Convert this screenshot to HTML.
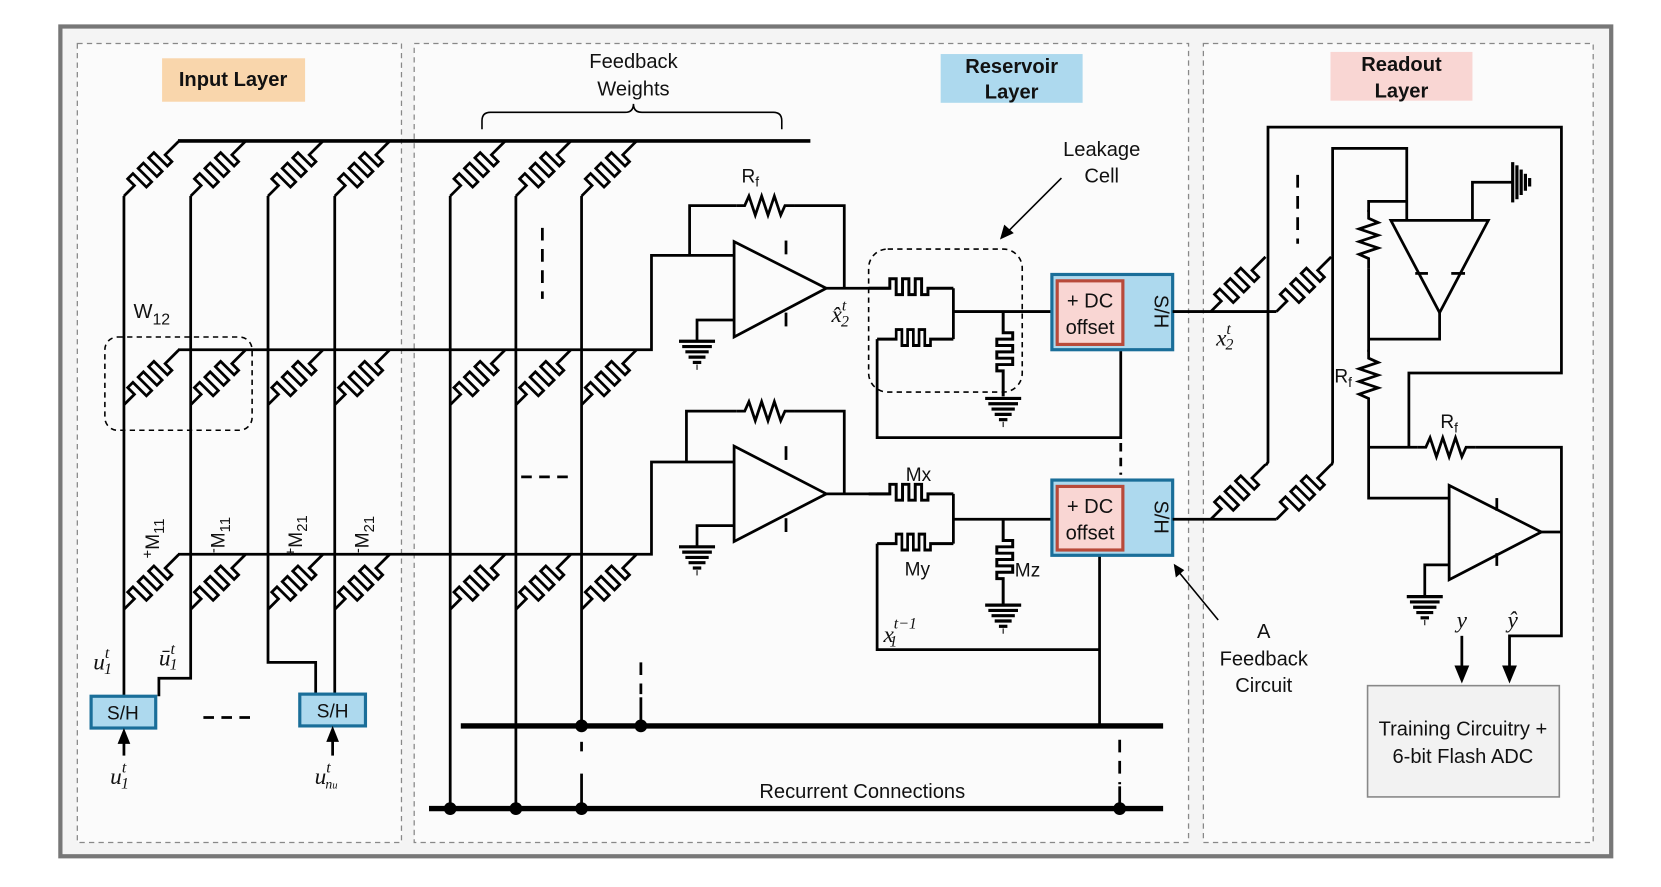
<!DOCTYPE html>
<html><head><meta charset="utf-8"><style>
html,body{margin:0;padding:0;background:#fff;}
svg{display:block;}
text{font-family:"Liberation Sans",sans-serif;fill:#111;}
.m{font-family:"Liberation Serif",serif;font-style:italic;}
</style></head><body>
<svg width="1661" height="887" viewBox="0 0 1568 837" preserveAspectRatio="none" xmlns="http://www.w3.org/2000/svg">
<defs>
<path id="mem" d="M0 0 L14 0 L14 -9 L21 -9 L21 9 L28 9 L28 -9 L35 -9 L35 9 L42 9 L42 -9 L49 -9 L49 9 L55 9 L55 0 L73 0" fill="none" stroke="#000" stroke-width="2.6"/>
<path id="memh" d="M0 0 L20 0 L20 -9 L26 -9 L26 6 L32 6 L32 -9 L38 -9 L38 6 L44 6 L44 -9 L50 -9 L50 6 L56 6 L56 0 L80 0" fill="none" stroke="#000" stroke-width="2.8"/>
<g id="gnd" stroke="#000" stroke-width="3">
<line x1="-17" y1="0" x2="17" y2="0"/><line x1="-14" y1="5" x2="14" y2="5"/><line x1="-11" y1="10" x2="11" y2="10"/><line x1="-8" y1="15" x2="8" y2="15"/><line x1="-4" y1="20" x2="4" y2="20"/><line x1="0" y1="22" x2="0" y2="27" stroke-width="1"/>
</g>
<path id="res" d="M0 0 L8 0 L12 -9 L18 9 L24 -9 L30 9 L36 -9 L42 9 L46 0 L55 0" fill="none" stroke="#000" stroke-width="2.6"/>
</defs>
<rect x="0" y="0" width="1568" height="837" fill="#fff"/>
<rect x="57" y="25" width="1464" height="783" fill="#f4f4f4" stroke="#777" stroke-width="4"/>
<g fill="#fbfbfb" stroke="#888" stroke-width="1.2" stroke-dasharray="5,4">
<rect x="73" y="41" width="306" height="754"/>
<rect x="391" y="41" width="731" height="754"/>
<rect x="1136" y="41" width="368" height="754"/>
</g>
<rect x="153" y="55" width="135" height="41" fill="#f9d6ac"/>
<text x="220" y="81" font-size="19" font-weight="bold" text-anchor="middle">Input Layer</text>
<rect x="888" y="51" width="134" height="46" fill="#add9ee"/>
<text x="955" y="69" font-size="19" font-weight="bold" text-anchor="middle">Reservoir</text>
<text x="955" y="93" font-size="19" font-weight="bold" text-anchor="middle">Layer</text>
<rect x="1256" y="49" width="134" height="46" fill="#f9d6d3"/>
<text x="1323" y="67" font-size="19" font-weight="bold" text-anchor="middle">Readout</text>
<text x="1323" y="92" font-size="19" font-weight="bold" text-anchor="middle">Layer</text>
<text x="598" y="64" font-size="19" text-anchor="middle">Feedback</text>
<text x="598" y="90" font-size="19" text-anchor="middle">Weights</text>
<path d="M455 122 V114 Q455 106 463 106 H590 Q598 106 598 98 Q598 106 606 106 H730 Q738 106 738 114 V122" fill="none" stroke="#000" stroke-width="1.5"/>

<g fill="none" stroke="#000" stroke-width="2.6">
<line x1="168" y1="133" x2="765" y2="133" stroke-width="3.5"/>
<polyline points="168,330 615,330 615,241 693,241"/>
<polyline points="168,523 615,523 615,436 693,436"/>
<polyline points="117,185 117,657"/>
<polyline points="180,185 180,640 150,640 150,657"/>
<polyline points="253,185 253,625 298,625 298,655"/>
<polyline points="316,185 316,655"/>
<line x1="425" y1="185" x2="425" y2="763"/>
<line x1="487" y1="185" x2="487" y2="763"/>
<line x1="549" y1="185" x2="549" y2="685"/>
<line x1="549" y1="700" x2="549" y2="712" stroke-dasharray="9,6"/>
<line x1="549" y1="730" x2="549" y2="763"/>
<line x1="512" y1="215" x2="512" y2="282" stroke-dasharray="12,8"/>
<line x1="492" y1="450" x2="540" y2="450" stroke-dasharray="10,7"/>
<line x1="192" y1="677" x2="240" y2="677" stroke-dasharray="10,7"/>
<line x1="605" y1="625" x2="605" y2="655" stroke-dasharray="12,8"/>
<line x1="605" y1="658" x2="605" y2="685"/>
<line x1="1057" y1="698" x2="1057" y2="740" stroke-dasharray="12,8"/>
<line x1="1057" y1="742" x2="1057" y2="763"/>
<line x1="1058" y1="418" x2="1058" y2="448" stroke-dasharray="8,6"/>
<line x1="1225" y1="165" x2="1225" y2="230" stroke-dasharray="12,8"/>
<line x1="435" y1="685" x2="1098" y2="685" stroke-width="5"/>
<line x1="405" y1="763" x2="1098" y2="763" stroke-width="5"/>
</g>
<g fill="#000">
<circle cx="549" cy="685" r="6"/><circle cx="605" cy="685" r="6"/>
<circle cx="425" cy="763" r="6"/><circle cx="487" cy="763" r="6"/><circle cx="549" cy="763" r="6"/><circle cx="1057" cy="763" r="6"/>
</g>
<text x="814" y="753" font-size="19" text-anchor="middle">Recurrent Connections</text>

<g>
<use href="#mem" transform="translate(117,185) rotate(-45)"/>
<use href="#mem" transform="translate(180,185) rotate(-45)"/>
<use href="#mem" transform="translate(253,185) rotate(-45)"/>
<use href="#mem" transform="translate(316,185) rotate(-45)"/>
<use href="#mem" transform="translate(425,185) rotate(-45)"/>
<use href="#mem" transform="translate(487,185) rotate(-45)"/>
<use href="#mem" transform="translate(549,185) rotate(-45)"/>
<use href="#mem" transform="translate(117,382) rotate(-45)"/>
<use href="#mem" transform="translate(180,382) rotate(-45)"/>
<use href="#mem" transform="translate(253,382) rotate(-45)"/>
<use href="#mem" transform="translate(316,382) rotate(-45)"/>
<use href="#mem" transform="translate(425,382) rotate(-45)"/>
<use href="#mem" transform="translate(487,382) rotate(-45)"/>
<use href="#mem" transform="translate(549,382) rotate(-45)"/>
<use href="#mem" transform="translate(117,575) rotate(-45)"/>
<use href="#mem" transform="translate(180,575) rotate(-45)"/>
<use href="#mem" transform="translate(253,575) rotate(-45)"/>
<use href="#mem" transform="translate(316,575) rotate(-45)"/>
<use href="#mem" transform="translate(425,575) rotate(-45)"/>
<use href="#mem" transform="translate(487,575) rotate(-45)"/>
<use href="#mem" transform="translate(549,575) rotate(-45)"/>
</g>
<rect x="99" y="318" width="139" height="88" rx="12" fill="none" stroke="#000" stroke-width="1.5" stroke-dasharray="5,4"/>
<text x="126" y="300" font-size="19">W<tspan font-size="15" dy="6">12</tspan></text>
<g font-size="18">
<text transform="translate(150,527) rotate(-90)"><tspan font-size="14" dy="-6">+</tspan><tspan dy="6">M</tspan><tspan font-size="14" dy="5">11</tspan></text>
<text transform="translate(212,522) rotate(-90)"><tspan font-size="14" dy="-6">-</tspan><tspan dy="6">M</tspan><tspan font-size="14" dy="5">11</tspan></text>
<text transform="translate(285,525) rotate(-90)"><tspan font-size="14" dy="-6">+</tspan><tspan dy="6">M</tspan><tspan font-size="14" dy="5">21</tspan></text>
<text transform="translate(348,522) rotate(-90)"><tspan font-size="14" dy="-6">-</tspan><tspan dy="6">M</tspan><tspan font-size="14" dy="5">21</tspan></text>
</g>
<rect x="86" y="657" width="61" height="30" fill="#add9ee" stroke="#1a6e99" stroke-width="3"/>
<text x="116" y="679" font-size="18" text-anchor="middle">S/H</text>
<rect x="283" y="655" width="62" height="30" fill="#add9ee" stroke="#1a6e99" stroke-width="3"/>
<text x="314" y="677" font-size="18" text-anchor="middle">S/H</text>
<g stroke="#000" stroke-width="2.6"><line x1="117" y1="713" x2="117" y2="700"/><line x1="314" y1="713" x2="314" y2="698"/></g>
<polygon points="111,702 123,702 117,687" fill="#000"/>
<polygon points="308,700 320,700 314,685" fill="#000"/>
<g font-size="22">
<text x="88" y="632" class="m">u<tspan font-size="15" dy="-11">t</tspan><tspan font-size="15" dx="-5" dy="15">1</tspan></text>
<text x="150" y="628" class="m">ū<tspan font-size="15" dy="-11">t</tspan><tspan font-size="15" dx="-5" dy="15">1</tspan></text>
<text x="104" y="740" class="m">u<tspan font-size="15" dy="-11">t</tspan><tspan font-size="15" dx="-5" dy="15">1</tspan></text>
<text x="297" y="740" class="m">u<tspan font-size="15" dy="-11">t</tspan><tspan font-size="13" dx="-5" dy="15">n<tspan font-size="10">u</tspan></tspan></text>
</g>

<g fill="none" stroke="#000" stroke-width="2.6">
<polygon points="693,228 693,318 780,272" fill="#fbfbfb"/>
<polyline points="651,241 651,194 695,194"/><use href="#res" transform="translate(695,194)" /><polyline points="750,194 797,194 797,272"/>
<line x1="780" y1="272" x2="840" y2="272"/>
<polyline points="693,302 658,302 658,322"/>
<line x1="742" y1="227" x2="742" y2="240"/><line x1="742" y1="295" x2="742" y2="308"/>
<polygon points="693,421 693,511 780,466" fill="#fbfbfb"/>
<polyline points="648,436 648,388 695,388"/><use href="#res" transform="translate(695,388)"/><polyline points="750,388 797,388 797,466"/>
<line x1="780" y1="466" x2="840" y2="466"/>
<polyline points="693,496 658,496 658,516"/>
<line x1="742" y1="421" x2="742" y2="434"/><line x1="742" y1="489" x2="742" y2="502"/>
</g>
<use href="#gnd" transform="translate(658,322)"/>
<use href="#gnd" transform="translate(658,516)"/>
<text x="700" y="172" font-size="18">R<tspan font-size="13" dy="4">f</tspan></text>
<text x="785" y="304" font-size="22" class="m">x̂<tspan font-size="15" dy="-11">t</tspan><tspan font-size="15" dx="-5" dy="15">2</tspan></text>

<g fill="none" stroke="#000" stroke-width="2.6">
<use href="#memh" transform="translate(820,272)"/>
<use href="#memh" transform="translate(828,320) scale(0.9,1)"/>
<polyline points="900,272 900,320"/>
<line x1="900" y1="294" x2="993" y2="294"/>
<use href="#memh" transform="translate(947,294) rotate(90)"/>
<polyline points="828,320 828,413 1058,413 1058,330"/>
<use href="#memh" transform="translate(820,466)"/>
<use href="#memh" transform="translate(828,513) scale(0.9,1)"/>
<polyline points="900,466 900,513"/>
<line x1="900" y1="490" x2="993" y2="490"/>
<use href="#memh" transform="translate(947,490) rotate(90)"/>
<polyline points="828,513 828,613 1038,613"/>
<line x1="1038" y1="524" x2="1038" y2="685"/>
</g>
<use href="#gnd" transform="translate(947,376)"/>
<use href="#gnd" transform="translate(947,571)"/>
<rect x="820" y="235" width="145" height="135" rx="18" fill="none" stroke="#000" stroke-width="1.5" stroke-dasharray="5,4"/>
<text x="1040" y="147" font-size="19" text-anchor="middle">Leakage</text>
<text x="1040" y="172" font-size="19" text-anchor="middle">Cell</text>
<line x1="1002" y1="168" x2="950" y2="220" stroke="#000" stroke-width="1.5"/>
<polygon points="944,226 948,212 957,220" fill="#000"/>
<text x="867" y="454" font-size="18" text-anchor="middle">Mx</text>
<text x="866" y="543" font-size="18" text-anchor="middle">My</text>
<text x="958" y="544" font-size="18">Mz</text>
<text x="834" y="606" font-size="22" class="m">x<tspan font-size="15" dy="-13">t−1</tspan><tspan font-size="15" dx="-26" dy="17">1</tspan></text>

<g>
<rect x="993" y="259" width="114" height="71" fill="#add9ee" stroke="#1a6e99" stroke-width="3"/>
<rect x="998" y="265" width="62" height="60" fill="#f9d6d3" stroke="#b84a3a" stroke-width="3"/>
<text x="1029" y="290" font-size="19" text-anchor="middle">+ DC</text>
<text x="1029" y="315" font-size="19" text-anchor="middle">offset</text>
<text transform="translate(1090,294) rotate(90)" font-size="19" text-anchor="middle">S/H</text>
<rect x="993" y="453" width="114" height="71" fill="#add9ee" stroke="#1a6e99" stroke-width="3"/>
<rect x="998" y="459" width="62" height="60" fill="#f9d6d3" stroke="#b84a3a" stroke-width="3"/>
<text x="1029" y="484" font-size="19" text-anchor="middle">+ DC</text>
<text x="1029" y="509" font-size="19" text-anchor="middle">offset</text>
<text transform="translate(1090,488) rotate(90)" font-size="19" text-anchor="middle">S/H</text>
</g>
<text x="1193" y="602" font-size="19" text-anchor="middle">A</text>
<text x="1193" y="628" font-size="19" text-anchor="middle">Feedback</text>
<text x="1193" y="653" font-size="19" text-anchor="middle">Circuit</text>
<line x1="1150" y1="585" x2="1113" y2="540" stroke="#000" stroke-width="1.5"/>
<polygon points="1108,532 1118,538 1110,545" fill="#000"/>

<g fill="none" stroke="#000" stroke-width="2.6">
<line x1="1107" y1="294" x2="1205" y2="294"/>
<use href="#mem" transform="translate(1143,294) rotate(-45)"/>
<use href="#mem" transform="translate(1205,294) rotate(-45)"/>
<line x1="1107" y1="490" x2="1205" y2="490"/>
<use href="#mem" transform="translate(1143,490) rotate(-45)"/>
<use href="#mem" transform="translate(1205,490) rotate(-45)"/>
<polyline points="1195,439 1197,436 1197,120 1474,120 1474,352 1330,352 1330,422"/>
<polyline points="1257,439 1258,436 1258,140 1328,140 1328,208"/>
<polygon points="1313,208 1405,208 1359,295" fill="#fbfbfb"/>
<polyline points="1390,208 1390,172 1428,172"/>
<polyline points="1359,295 1359,320 1292,320"/>
<polyline points="1328,190 1292,190 1292,200"/>
<use href="#res" transform="translate(1292,198) rotate(90)"/>
<line x1="1292" y1="253" x2="1292" y2="332"/>
<use href="#res" transform="translate(1292,330) rotate(90)"/>
<polyline points="1292,385 1292,470 1368,470"/>
<line x1="1292" y1="422" x2="1338" y2="422"/>
<use href="#res" transform="translate(1338,422)"/>
<polyline points="1393,422 1474,422 1474,600 1425,600 1425,630"/>
<line x1="1336" y1="258" x2="1348" y2="258"/><line x1="1370" y1="258" x2="1383" y2="258"/>
<polygon points="1368,458 1368,547 1455,502" fill="#fbfbfb"/>
<line x1="1455" y1="502" x2="1474" y2="502"/>
<polyline points="1368,533 1345,533 1345,563"/>
<line x1="1413" y1="470" x2="1413" y2="482"/><line x1="1413" y1="522" x2="1413" y2="534"/>
<line x1="1380" y1="600" x2="1380" y2="630"/>
</g>
<g stroke="#000" stroke-width="3">
<line x1="1428" y1="153" x2="1428" y2="191"/><line x1="1432" y1="156" x2="1432" y2="188"/><line x1="1436" y1="160" x2="1436" y2="184"/><line x1="1440" y1="164" x2="1440" y2="180"/><line x1="1444" y1="168" x2="1444" y2="176"/>
</g>
<use href="#gnd" transform="translate(1345,563)"/>
<polygon points="1373,628 1387,628 1380,645" fill="#000"/>
<polygon points="1418,628 1432,628 1425,645" fill="#000"/>
<text x="1268" y="361" font-size="18" text-anchor="middle">R<tspan font-size="13" dy="4">f</tspan></text>
<text x="1368" y="404" font-size="18" text-anchor="middle">R<tspan font-size="13" dy="4">f</tspan></text>
<text x="1148" y="326" font-size="22" class="m">x<tspan font-size="15" dy="-11">t</tspan><tspan font-size="15" dx="-5" dy="15">2</tspan></text>
<text x="1380" y="592" font-size="22" class="m" text-anchor="middle">y</text>
<text x="1428" y="592" font-size="22" class="m" text-anchor="middle">ŷ</text>
<rect x="1291" y="647" width="181" height="105" fill="#f2f2f2" stroke="#888" stroke-width="1.5"/>
<text x="1381" y="694" font-size="19" text-anchor="middle">Training Circuitry +</text>
<text x="1381" y="720" font-size="19" text-anchor="middle">6-bit Flash ADC</text>
</svg>
</body></html>
